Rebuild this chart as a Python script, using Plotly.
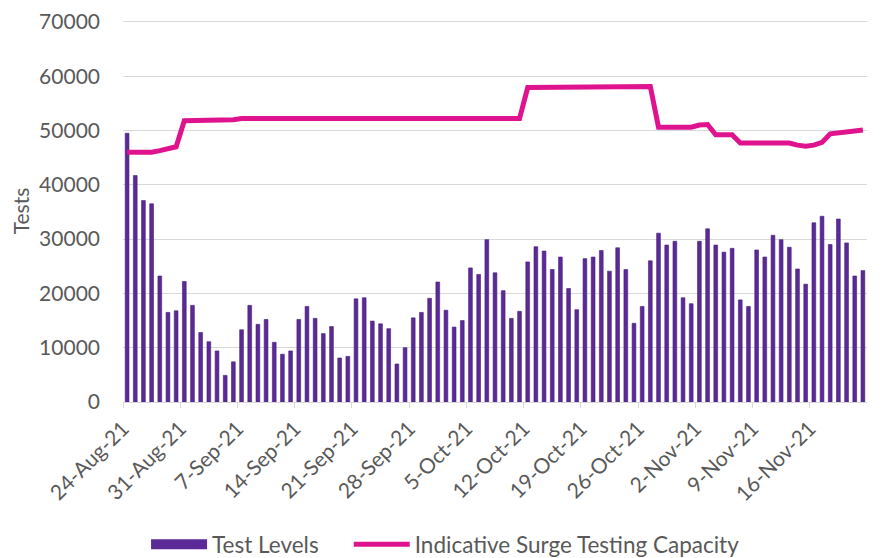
import pandas as pd
import plotly.graph_objects as go

start_date = "2021-08-24"
n_days = 91

test_levels = [
    49500, 41700, 37100, 36500, 23200, 16500, 16800, 22200, 17800, 12800,
    11100, 9400, 4900, 7400, 13300, 17800, 14300, 15200, 11000, 8800,
    9400, 15200, 17600, 15400, 12600, 13900, 8100, 8400, 19000, 19200,
    14900, 14400, 13500, 7000, 10000, 15500, 16500, 19100, 22100, 16900,
    13800, 15000, 24700, 23500, 29900, 23800, 20500, 15400, 16700, 25800,
    28600, 27800, 24400, 26700, 20900, 17000, 26400, 26700, 27900, 24100,
    28400, 24400, 14500, 17600, 26000, 31100, 28900, 29600, 19200, 18100,
    29600, 31900, 28900, 27600, 28300, 18800, 17600, 28000, 26700, 30700,
    29900, 28500, 24500, 21700, 33000, 34200, 29000, 33700, 29300, 23200,
    24200,
]

surge_capacity = [
    46000, 46000, 46000, 46000, 46300, 46700, 47000, 51800, 51800, 51800,
    51800, 51800, 51800, 52000, 52200, 52200, 52200, 52200, 52200, 52200,
    52200, 52200, 52200, 52200, 52200, 52200, 52200, 52200, 52200, 52200,
    52200, 52200, 52200, 52200, 52200, 52200, 52200, 52200, 52200, 52200,
    52200, 52200, 52200, 52200, 52200, 52200, 52200, 52200, 52200, 57900,
    57900, 57900, 57900, 57900, 57900, 57900, 57900, 57900, 58000, 58100,
    58100, 58100, 58100, 58100, 58100, 50600, 50600, 50600, 50600, 50600,
    51000, 51100, 49200, 49200, 49200, 47700, 47700, 47700, 47700, 47700,
    47700, 47700, 47300, 47100, 47300, 47800, 49400, 49500, 49600, 49900,
    50100,
]

tick_labels = ["24-Aug-21", "31-Aug-21", "7-Sep-21", "14-Sep-21", "21-Sep-21",
               "28-Sep-21", "5-Oct-21", "12-Oct-21", "19-Oct-21", "26-Oct-21",
               "2-Nov-21", "9-Nov-21", "16-Nov-21"]

y_max = 70000
y_step = 10000

dates = pd.date_range(start_date, periods=n_days, freq="D")
half_day = pd.Timedelta(hours=12)
tick_vals = [pd.Timestamp(pd.to_datetime(t, format="%d-%b-%y")) - half_day for t in tick_labels]

BAR_COLOR = "#5B2A96"
LINE_COLOR = "#E0138F"
TEXT_COLOR = "#595959"
FONT = "Lato, Liberation Sans, sans-serif"

fig = go.Figure()
fig.add_trace(go.Bar(
    x=dates, y=test_levels, name="Test Levels", showlegend=False,
    marker=dict(color=BAR_COLOR, line=dict(color="#44207A", width=0.6)),
    width=0.46 * 86400000,
))
# legend entry for the bars drawn as a wide block, like the original
fig.add_trace(go.Scatter(
    x=[None], y=[None], name="Test Levels", mode="lines",
    line=dict(color=BAR_COLOR, width=14), legend="legend",
))
fig.add_trace(go.Scatter(
    x=dates, y=surge_capacity, name="Indicative Surge Testing Capacity",
    mode="lines", line=dict(color=LINE_COLOR, width=5), legend="legend2",
))

legend_common = dict(orientation="h", xanchor="left", xref="container",
                     y=-0.006, yanchor="bottom", yref="container",
                     font=dict(size=22.5, color=TEXT_COLOR), itemwidth=56,
                     bgcolor="rgba(0,0,0,0)")

# the page body adds an 8px offset; margins compensate for it
fig.update_layout(
    width=885, height=558,
    margin=dict(l=115, r=26, t=12, b=164),
    paper_bgcolor="white", plot_bgcolor="white",
    font=dict(family=FONT, color=TEXT_COLOR, size=21),
    showlegend=True,
    legend=dict(x=0.156, **legend_common),
    legend2=dict(x=0.385, **legend_common),
    xaxis=dict(
        type="date", automargin=False,
        range=[dates[0] - half_day, dates[-1] + half_day],
        tickvals=tick_vals, ticktext=tick_labels, tickangle=-45,
        showgrid=False, showline=True, linecolor="#D9D9D9", linewidth=1,
        ticks="outside", ticklen=5, tickcolor="#D9D9D9",
        tickfont=dict(size=21, color=TEXT_COLOR),
    ),
    yaxis=dict(
        range=[0, y_max * 1.005], dtick=y_step, tickformat="d", automargin=False,
        showgrid=True, gridcolor="#D9D9D9", gridwidth=1,
        zeroline=False, showline=False,
        ticklabelstandoff=22, ticklabeloverflow="allow",
        tickfont=dict(size=21, color=TEXT_COLOR),
        title=dict(text="Tests", font=dict(size=21, color=TEXT_COLOR), standoff=10),
    ),
    bargap=0.5,
)

fig.write_html("out.html")
